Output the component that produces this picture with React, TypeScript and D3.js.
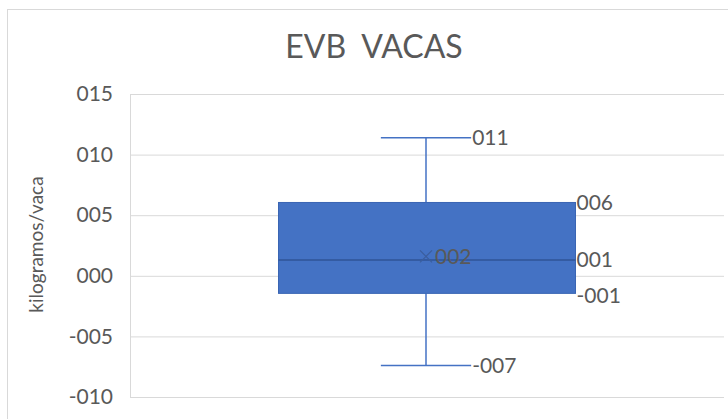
import { useEffect, useRef } from 'react';
import * as d3 from 'd3';

// box plot statistics (kilogramos/vaca)
const categories = ['EVB VACAS'];
const whiskerMax = [11.4];
const quartile3 = [6.05];
const medians = [1.3];
const quartile1 = [-1.45];
const whiskerMin = [-7.4];
const means = [1.6];
const yTicks = [-10, -5, 0, 5, 10, 15];

const App = () => {
  const chartRef = useRef(null);
  const width = 728;
  const height = 419;
  const marginTop = 94;
  const marginRight = 4;
  const marginBottom = 22;
  const marginLeft = 130;

  useEffect(() => {
    const svg = d3.select(chartRef.current);
    svg.selectAll('*').remove();

    const font = 'Lato, "Open Sans", sans-serif';
    const textColor = '#595959';
    const fmt = (v: number) => (Math.round(v) < 0 ? '-' : '') + d3.format('03d')(Math.abs(Math.round(v)));

    // chart border
    svg.append('rect')
      .attr('x', 7.5).attr('y', 9.5)
      .attr('width', width + 10).attr('height', height + 10)
      .attr('fill', '#fff').attr('stroke', '#d9d9d9');

    const x = d3.scaleBand()
      .domain(categories)
      .range([marginLeft, width - marginRight])
      .paddingInner(0.5)
      .paddingOuter(0.25);

    const y = d3.scaleLinear()
      .domain([-10, 15])
      .range([height - marginBottom, marginTop]);

    // title
    svg.append('text')
      .attr('x', 374).attr('y', 58)
      .attr('text-anchor', 'middle')
      .attr('font-family', font).attr('font-size', 32)
      .attr('fill', textColor)
      .attr('xml:space', 'preserve')
      .text('EVB  VACAS');

    // y axis with gridlines
    svg.append('g')
      .attr('transform', `translate(${marginLeft},0)`)
      .call(d3.axisLeft(y).tickValues(yTicks).tickSize(-(width - marginLeft - marginRight)).tickPadding(17).tickFormat(d => fmt(+d)))
      .call(g => g.select('.domain').remove())
      .call(g => g.selectAll('.tick line').attr('stroke', '#d9d9d9'))
      .call(g => g.selectAll('.tick text')
        .attr('font-family', font).attr('font-size', 21).attr('fill', textColor));

    svg.append('line')
      .attr('x1', marginLeft + 0.5).attr('x2', marginLeft + 0.5)
      .attr('y1', y(15)).attr('y2', y(-10))
      .attr('stroke', '#d9d9d9');

    // y axis title
    svg.append('text')
      .attr('transform', `translate(43,${(y(15) + y(-10)) / 2 - 1}) rotate(-90)`)
      .attr('text-anchor', 'middle')
      .attr('font-family', font).attr('font-size', 19)
      .attr('fill', textColor)
      .text('kilogramos/vaca');

    const boxes = categories.map((c, i) => ({
      c, max: whiskerMax[i], q3: quartile3[i], med: medians[i], q1: quartile1[i], min: whiskerMin[i], mean: means[i],
    }));

    const g = svg.append('g');
    const blue = '#4472C4';
    const dark = '#2F5597';

    boxes.forEach(d => {
      const x0 = x(d.c)!;
      const bw = x.bandwidth();
      const cx = x0 + bw / 2 - 1;
      const cap = bw * 0.152;

      // whiskers
      g.append('line').attr('x1', cx).attr('x2', cx).attr('y1', y(d.max)).attr('y2', y(d.q3)).attr('stroke', blue).attr('stroke-width', 1.5);
      g.append('line').attr('x1', cx).attr('x2', cx).attr('y1', y(d.q1)).attr('y2', y(d.min)).attr('stroke', blue).attr('stroke-width', 1.5);
      g.append('line').attr('x1', cx - cap).attr('x2', cx + cap).attr('y1', y(d.max)).attr('y2', y(d.max)).attr('stroke', blue).attr('stroke-width', 1.5);
      g.append('line').attr('x1', cx - cap).attr('x2', cx + cap).attr('y1', y(d.min)).attr('y2', y(d.min)).attr('stroke', blue).attr('stroke-width', 1.5);

      // box
      g.append('rect')
        .attr('x', x0).attr('y', y(d.q3))
        .attr('width', bw).attr('height', y(d.q1) - y(d.q3))
        .attr('fill', blue).attr('stroke', '#3a65b3').attr('stroke-width', 1);
      g.append('line').attr('x1', x0).attr('x2', x0 + bw).attr('y1', y(d.med)).attr('y2', y(d.med)).attr('stroke', dark).attr('stroke-width', 1.5);

      // mean marker
      const m = 6;
      g.append('path')
        .attr('d', `M${cx - m},${y(d.mean) - m}L${cx + m},${y(d.mean) + m}M${cx - m},${y(d.mean) + m}L${cx + m},${y(d.mean) - m}`)
        .attr('stroke', '#3b5e9e').attr('stroke-width', 1.2);

      // data labels
      const labels = [
        { v: d.max, x: cx + cap + 1, dy: 0 },
        { v: d.q3, x: x0 + bw + 1, dy: 0 },
        { v: d.med, x: x0 + bw + 1, dy: 0 },
        { v: d.q1, x: x0 + bw + 1, dy: 2 },
        { v: d.min, x: cx + cap + 1, dy: 0 },
        { v: d.mean, x: cx + m + 3, dy: 0 },
      ];
      g.selectAll(null)
        .data(labels)
        .join('text')
        .attr('x', l => l.x)
        .attr('y', l => y(l.v) + l.dy)
        .attr('dy', '0.35em')
        .attr('font-family', font).attr('font-size', 21)
        .attr('fill', textColor)
        .text(l => fmt(l.v));
    });
  }, []);

  return (
    <svg
      ref={chartRef}
      width={width}
      height={height}
      viewBox={`0 0 ${width} ${height}`}
      style={{ position: 'absolute', left: 0, top: 0 }}
    />
  );
};

export default App;
